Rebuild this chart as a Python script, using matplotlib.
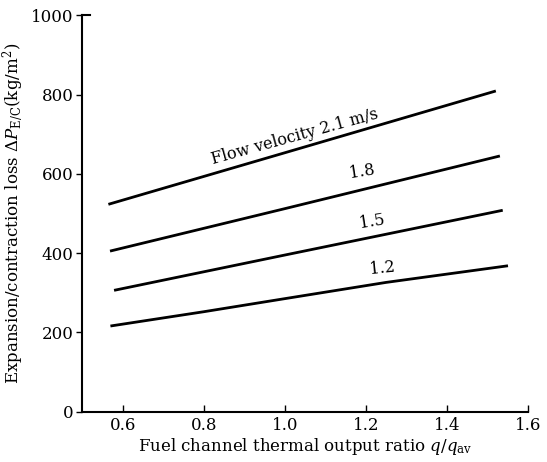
import matplotlib
matplotlib.use("Agg")
import matplotlib.pyplot as plt

plt.rcParams["font.family"] = ["DejaVu Serif"]
plt.rcParams["mathtext.fontset"] = "dejavuserif"

# Flow velocity curves (m/s): x = q/q_av, y = loss (kg/m2)
x_21 = [0.565, 1.00, 1.521]
y_21 = [523, 653, 809]
x_18 = [0.569, 1.00, 1.531]
y_18 = [405, 512, 645]
x_15 = [0.579, 1.00, 1.538]
y_15 = [306, 395, 508]
x_12 = [0.570, 0.80, 1.00, 1.25, 1.551]
y_12 = [216, 252, 285, 326, 368]

label_text = ["Flow velocity 2.1 m/s", "1.8", "1.5", "1.2"]
label_x = [1.026, 1.190, 1.215, 1.240]
label_y = [693, 605, 479, 361]
label_rot = [15.5, 9, 9, 6]

xticks = [0.6, 0.8, 1.0, 1.2, 1.4, 1.6]
yticks = [0, 200, 400, 600, 800, 1000]

fig = plt.figure(figsize=(5.47, 4.62), dpi=100)
ax = fig.add_axes([0.150, 0.109, 0.815, 0.858])

for xs, ys in [(x_21, y_21), (x_18, y_18), (x_15, y_15), (x_12, y_12)]:
    ax.plot(xs, ys, color="black", linewidth=2.0, solid_capstyle="butt")

for t, lx, ly, r in zip(label_text, label_x, label_y, label_rot):
    ax.text(lx, ly, t, fontsize=11.5, rotation=r, ha="center", va="center")

ax.set_xlim(0.5, 1.6)
ax.set_ylim(0, 1000)
ax.set_xticks(xticks)
ax.set_xticklabels(["0.6", "0.8", "1.0", "1.2", "1.4", "1.6"])
ax.set_yticks(yticks)

ax.spines["top"].set_visible(False)
ax.spines["right"].set_visible(False)
ax.spines["left"].set_linewidth(1.5)
ax.spines["bottom"].set_linewidth(1.5)
ax.tick_params(axis="x", direction="in", length=5, width=1, labelsize=12, pad=4)
ax.tick_params(axis="y", direction="out", length=4, width=1, labelsize=12, pad=2)
# short stub at the top of the y axis
ax.plot([0.5, 0.52], [1000, 1000], color="black", linewidth=1.5, clip_on=False)

ax.set_xlabel(r"Fuel channel thermal output ratio $q/q_{\rm av}$", fontsize=12, labelpad=1)
ax.set_ylabel(r"Expansion/contraction loss $\Delta P_{\rm E/C}$(kg/m$^2$)", fontsize=12, labelpad=4)

fig.savefig("out.png", dpi=100)
